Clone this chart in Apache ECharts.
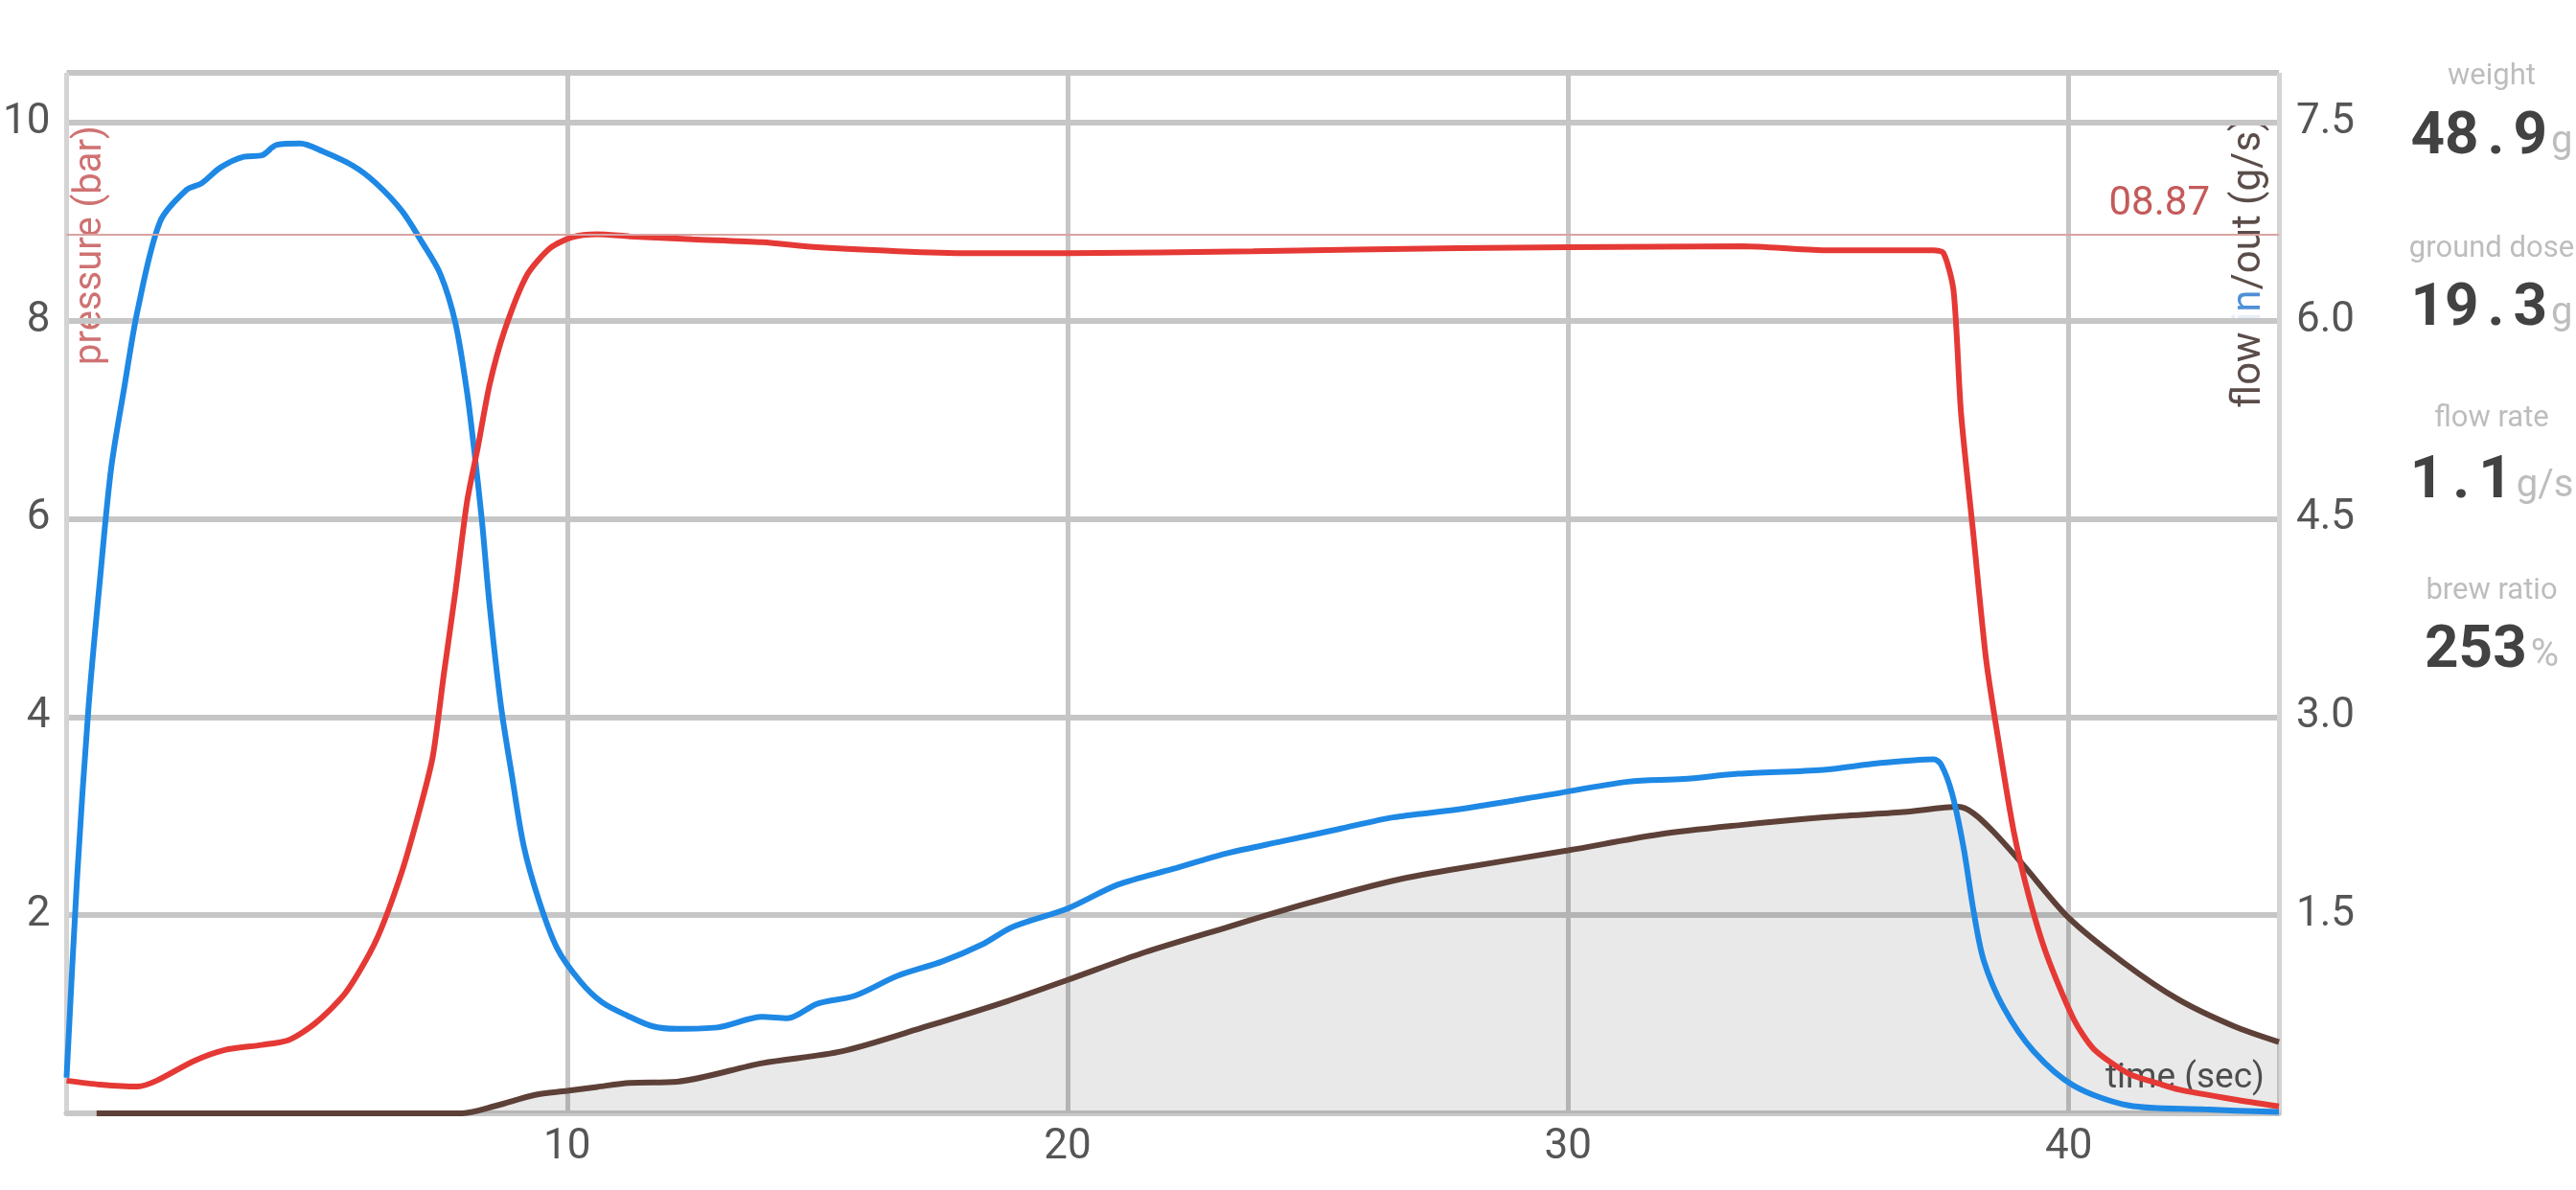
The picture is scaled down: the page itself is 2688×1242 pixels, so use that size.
<!DOCTYPE html>
<html>
<head>
<meta charset="utf-8">
<script src="https://cdn.jsdelivr.net/npm/echarts@6/dist/echarts.min.js"></script>
<style>
html,body{margin:0;padding:0;background:#fff;}
#chart{width:2688px;height:1242px;}
</style>
</head>
<body>
<div id="chart"></div>
<script>
// ---- data ----
const timePressure = [0,0.67,1.42,1.8,2.55,3.16,3.9,4.44,4.97,5.58,6.18,6.7,7.09,7.32,7.54,7.77,8.0,8.22,8.45,8.75,9.2,9.66,10.1,10.6,11.25,12.5,13.9,15.0,16.6,18.0,20.0,23.7,27.8,30.0,33.5,35.1,37.3,37.5,37.7,37.85,38.1,38.35,38.6,38.9,39.2,39.56,40.1,40.5,41.2,41.8,42.2,43.3,44.2];
const pressure = [0.33,0.29,0.27,0.33,0.53,0.64,0.69,0.74,0.91,1.22,1.74,2.44,3.13,3.61,4.44,5.27,6.17,6.73,7.35,7.9,8.46,8.73,8.84,8.87,8.85,8.82,8.79,8.74,8.70,8.68,8.68,8.70,8.73,8.74,8.75,8.71,8.71,8.68,8.3,7.06,5.82,4.58,3.75,2.85,2.2,1.6,0.95,0.65,0.4,0.3,0.24,0.14,0.07];

const timeFlowIn = [0,0.21,0.44,0.67,0.89,1.16,1.42,1.87,2.4,2.7,3.08,3.54,3.9,4.2,4.67,5.12,5.73,6.18,6.7,7.09,7.47,7.77,8.0,8.15,8.3,8.45,8.68,8.9,9.13,9.43,9.8,10.26,10.7,11.2,11.7,12.2,13.0,13.9,14.4,15.0,15.75,16.6,17.5,18.3,18.9,20.0,21.0,22.1,23.2,24.3,25.4,26.5,27.8,29.6,31.2,32.3,33.4,35.1,36.2,37.3,37.45,37.67,37.9,38.1,38.3,38.7,39.3,40.1,41.2,42.7,44.2];
const flowIn = [0.27,1.78,3.08,4.05,4.88,5.51,6.08,6.75,6.99,7.04,7.16,7.24,7.25,7.33,7.34,7.28,7.17,7.04,6.83,6.6,6.35,5.98,5.46,5.0,4.48,3.85,3.08,2.55,2.03,1.62,1.25,1.0,0.84,0.74,0.66,0.64,0.65,0.73,0.72,0.83,0.89,1.04,1.15,1.28,1.41,1.55,1.73,1.85,1.97,2.06,2.15,2.24,2.30,2.41,2.51,2.53,2.57,2.60,2.65,2.68,2.64,2.42,2.01,1.53,1.16,0.8,0.47,0.21,0.06,0.03,0.01];

const timeFlowOut = [0.6,7.9,8.6,9.36,10.0,10.6,11.25,12.2,13.9,15.5,17.2,18.8,20.0,21.55,23.2,24.8,26.5,27.6,30.0,31.8,33.4,35.1,36.7,37.8,38.1,38.5,39.07,40.0,41.1,42.2,43.3,44.2];
const flowOut = [0,0,0.06,0.14,0.17,0.20,0.23,0.24,0.38,0.47,0.66,0.85,1.01,1.22,1.41,1.59,1.76,1.84,1.99,2.11,2.18,2.24,2.28,2.32,2.27,2.13,1.89,1.48,1.14,0.86,0.66,0.54];

const pressureMark = 8.87;

const statLabels = ['weight', 'ground dose', 'flow rate', 'brew ratio'];
const statValues = ['48.9', '19.3', '1.1', '253'];
const statUnits = ['g', 'g', 'g/s', '%'];

const pressureTicks = { min: 0, max: 10.5, interval: 2 };
const flowTicks = { min: 0, max: 7.875, interval: 1.5 };
const timeTicks = { min: 0, max: 44.2, interval: 10 };

// ---- chart ----
const NARROW = "'Liberation Sans Narrow', 'Roboto', sans-serif";
const zip = (xs, ys) => xs.map((x, i) => [x, ys[i]]);

const chart = echarts.init(document.getElementById('chart'), null, { renderer: 'canvas' });

const statGraphics = [];
const labelY = [80, 260, 437, 617];
const valueY = [144, 323, 503, 680];
statLabels.forEach((lab, i) => {
  statGraphics.push({
    type: 'text', x: 2600, y: labelY[i], z: 10,
    style: { text: lab, fill: '#bdbdbd', font: '31px Roboto', align: 'center', verticalAlign: 'middle' }
  });
  const v = statValues[i];
  let txt;
  if (v.indexOf('.') >= 0) {
    const parts = v.split('.');
    txt = '{n|' + parts[0] + '}{p|.}{n|' + parts[1] + '}{u|' + statUnits[i] + '}';
  } else {
    txt = '{n|' + v + '}{u|' + statUnits[i] + '}';
  }
  statGraphics.push({
    type: 'text', x: 2600, y: valueY[i], z: 10,
    style: {
      text: txt, align: 'center', verticalAlign: 'middle',
      rich: {
        n: { fontFamily: NARROW, fontWeight: 'bold', fontSize: 62, fill: '#424242' },
        p: { fontFamily: NARROW, fontWeight: 'bold', fontSize: 62, fill: '#424242', padding: [0, 9, 0, 9] },
        u: { fontFamily: NARROW, fontSize: 40, fill: '#bdbdbd', verticalAlign: 'bottom', padding: [0, 0, 6, 4] }
      }
    }
  });
});

const option = {
  animation: false,
  backgroundColor: '#ffffff',
  grid: { left: 62, right: 310, top: 76, bottom: 80, containLabel: false },
  xAxis: {
    type: 'value',
    min: timeTicks.min, max: timeTicks.max, interval: timeTicks.interval,
    axisLine: { show: true, lineStyle: { color: '#c8c8c8', width: 6 } },
    axisTick: { show: false },
    axisLabel: {
      margin: 14, color: '#555', fontSize: 44, fontFamily: NARROW,
      formatter: v => (v > 0 && v % 10 === 0) ? String(v) : ''
    },
    splitLine: { show: true, lineStyle: { color: ['#d4d4d4', '#c6c6c6', '#c6c6c6', '#c6c6c6', '#c6c6c6', '#d4d4d4'], width: 5 } }
  },
  yAxis: [
    {
      type: 'value',
      min: pressureTicks.min, max: pressureTicks.max, interval: pressureTicks.interval,
      axisLine: { show: false }, axisTick: { show: false },
      axisLabel: {
        margin: 17, color: '#555', fontSize: 44, fontFamily: NARROW,
        formatter: v => (v > 0 && v % 2 === 0) ? String(v) : ''
      },
      splitLine: { show: true, lineStyle: { color: '#c6c6c6', width: 6 } }
    },
    {
      type: 'value',
      min: flowTicks.min, max: flowTicks.max, interval: flowTicks.interval,
      axisLine: { show: false }, axisTick: { show: false },
      axisLabel: {
        margin: 18, color: '#555', fontSize: 44, fontFamily: NARROW,
        formatter: v => (v > 0 && v < 7.6) ? v.toFixed(1) : ''
      },
      splitLine: { show: false }
    }
  ],
  graphic: [
    {
      type: 'text', x: 95, y: 256, rotation: Math.PI / 2,
      style: { text: 'pressure (bar)', fill: '#cf7272', font: '40px Roboto', align: 'center', verticalAlign: 'middle' }
    },
    {
      type: 'text', x: 2347, y: 274, rotation: Math.PI / 2,
      style: {
        text: '{a|flow }{b|i}{c|n}{a|/out (g/s)}', align: 'center', verticalAlign: 'middle',
        rich: {
          a: { fontFamily: 'Roboto', fontSize: 42, fill: '#5b4d49' },
          b: { fontFamily: 'Roboto', fontSize: 42, fill: '#e8eff8' },
          c: { fontFamily: 'Roboto', fontSize: 42, fill: '#4f8fd6' }
        }
      }
    },
    {
      type: 'text', x: 2280, y: 1126,
      style: { text: 'time (sec)', fill: '#555', font: '37px Roboto', align: 'center', verticalAlign: 'middle' }
    }
  ].concat(statGraphics),
  series: [
    {
      name: 'flow out', type: 'line', yAxisIndex: 1,
      data: zip(timeFlowOut, flowOut),
      showSymbol: false, smooth: 0.3,
      lineStyle: { color: '#5d4037', width: 6 },
      itemStyle: { color: '#5d4037' },
      areaStyle: { color: 'rgba(0,0,0,0.12)', origin: 'start' },
      z: 2
    },
    {
      name: 'flow in', type: 'line', yAxisIndex: 1,
      data: zip(timeFlowIn, flowIn),
      showSymbol: false, smooth: 0.3,
      lineStyle: { color: '#1e88e5', width: 6 },
      itemStyle: { color: '#1e88e5' },
      z: 3
    },
    {
      name: 'pressure', type: 'line', yAxisIndex: 0,
      data: zip(timePressure, pressure),
      showSymbol: false, smooth: 0.25,
      lineStyle: { color: '#e53935', width: 6 },
      itemStyle: { color: '#e53935' },
      z: 4,
      markLine: {
        silent: true, symbol: ['none', 'none'],
        lineStyle: { color: '#d9a3a3', width: 2, type: 'solid' },
        label: {
          show: true, position: 'insideEndTop', distance: [72, 10],
          color: '#c45a5a', fontSize: 42, fontFamily: NARROW,
          formatter: p => p.value.toFixed(2).padStart(5, '0')
        },
        data: [{ yAxis: pressureMark }]
      }
    }
  ]
};
chart.setOption(option);
</script>
</body>
</html>
